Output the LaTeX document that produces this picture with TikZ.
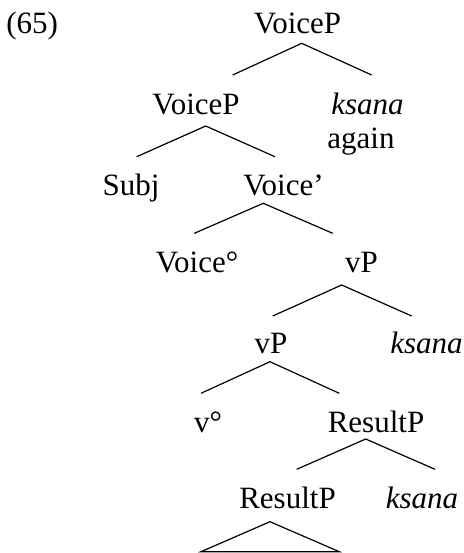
\documentclass[tikz,border=0pt]{standalone}
\usepackage{fontspec}
\setmainfont{Liberation Serif}
\begin{document}
\begin{tikzpicture}[x=0.5pt,y=-0.5pt,
  lab/.style={inner sep=0pt,anchor=base,font=\fontsize{15.5}{18}\selectfont},
  branch/.style={line width=0.6pt}]
\useasboundingbox (0,0) rectangle (464,553);
% labels
\node[lab,anchor=base west] (ex) at (6,33) {(65)};
\node[lab] (root) at (297.5,33) {VoiceP};
\node[lab] (vp1) at (196,114) {VoiceP};
\node[lab] (k1) at (367.5,114) {\itshape ksana};
\node[lab] (again) at (361,148) {again};
\node[lab] (subj) at (131,195) {Subj};
\node[lab] (vbar) at (283.5,195) {Voice’};
\node[lab] (vhead) at (197,272) {Voice°};
\node[lab] (vP) at (361.5,272) {vP};
\node[lab] (vP2) at (271,353) {vP};
\node[lab] (k2) at (426.5,353) {\itshape ksana};
\node[lab] (vsm) at (208,432) {v°};
\node[lab] (res) at (376,432) {ResultP};
\node[lab] (res2) at (287.5,508) {ResultP};
\node[lab] (k3) at (422,508) {\itshape ksana};
% branch points
\coordinate (a1) at (301.7,43.3);
\coordinate (l1) at (232.7,75);
\coordinate (r1) at (371.7,75);
\coordinate (a2) at (205.7,126);
\coordinate (l2) at (136.7,156.7);
\coordinate (r2) at (275,156.7);
\coordinate (a3) at (263.3,203.3);
\coordinate (l3) at (194.3,233.3);
\coordinate (r3) at (332.7,233.3);
\coordinate (a4) at (341.7,285);
\coordinate (l4) at (272.7,316);
\coordinate (r4) at (411.7,316);
\coordinate (a5) at (270,361.7);
\coordinate (l5) at (201,393.3);
\coordinate (r5) at (339.3,393.3);
\coordinate (a6) at (365.7,439);
\coordinate (l6) at (296.7,469.3);
\coordinate (r6) at (435,469.3);
\coordinate (a7) at (270,521.7);
\coordinate (l7) at (201,551.7);
\coordinate (r7) at (339.3,551.7);
\draw[branch] (l1) -- (a1) -- (r1);
\draw[branch] (l2) -- (a2) -- (r2);
\draw[branch] (l3) -- (a3) -- (r3);
\draw[branch] (l4) -- (a4) -- (r4);
\draw[branch] (l5) -- (a5) -- (r5);
\draw[branch] (l6) -- (a6) -- (r6);
\draw[branch] (l7) -- (a7) -- (r7) -- cycle;
\end{tikzpicture}
\end{document}
